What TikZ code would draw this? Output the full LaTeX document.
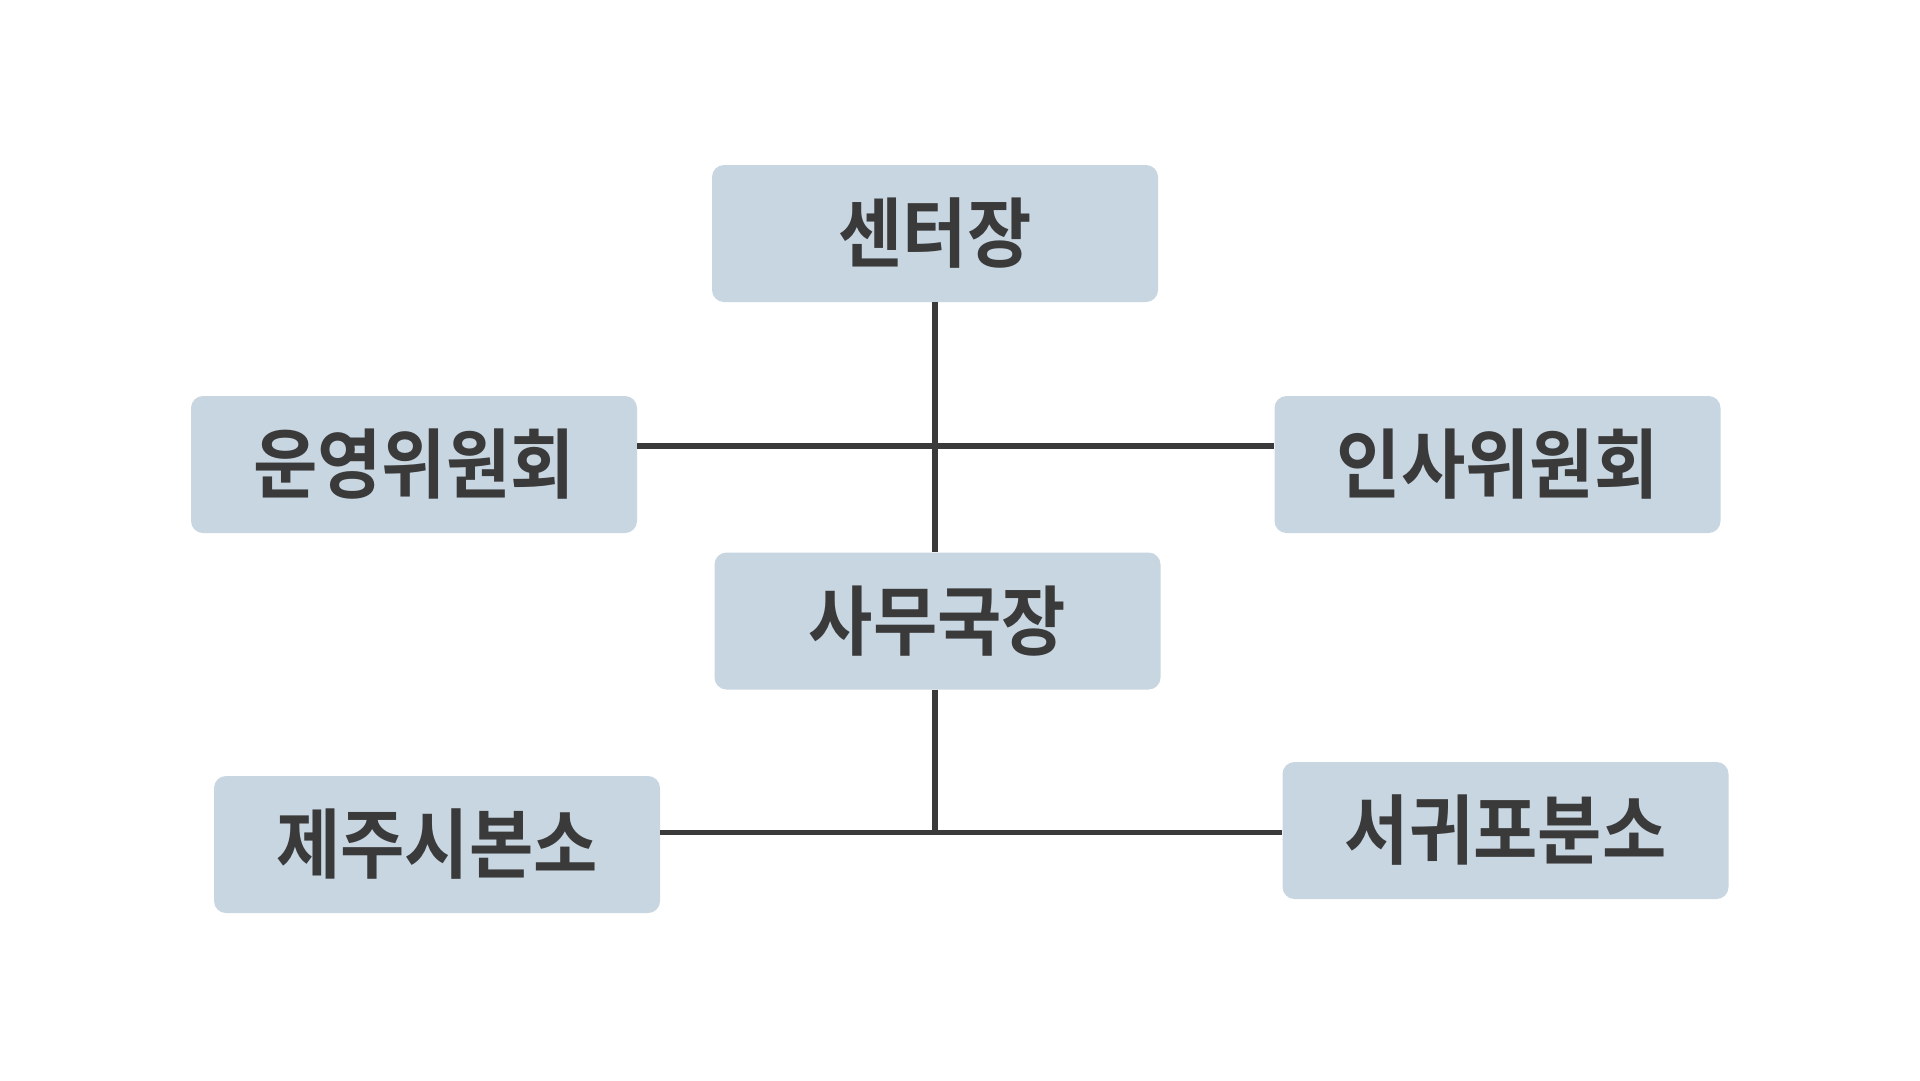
\documentclass[tikz,border=0pt]{standalone}
\usepackage{fontspec}
\newfontfamily\krfont{Noto Sans CJK KR Bold}[FakeStretch=0.92]
\definecolor{boxfill}{HTML}{C8D6E1}
\definecolor{ink}{HTML}{3A3A3A}
\begin{document}
\begin{tikzpicture}[x=1pt,y=-1pt,
  orgbox/.style={rectangle, rounded corners=12pt, fill=boxfill, draw=none,
    minimum width=446pt, minimum height=137pt, inner sep=0pt,
    text=ink, font=\krfont\fontsize{76}{80}\selectfont},
  conn/.style={draw=ink, line width=5.5pt}]
\useasboundingbox[fill=white] (0,0) rectangle (1920,1080);
\node[orgbox] (c)  at (935,233.5)  {센터장};
\node[orgbox] (l1) at (414,464.5)  {운영위원회};
\node[orgbox] (r1) at (1497.5,464.5) {인사위원회};
\node[orgbox] (m)  at (937.5,621)  {사무국장};
\node[orgbox] (l2) at (437,844.5)  {제주시본소};
\node[orgbox] (r2) at (1505.5,830.5) {서귀포분소};
\coordinate (j1) at (935,446);
\coordinate (j2) at (935,832.5);
\draw[conn] (c.south) -- (c.south |- m.north);
\draw[conn] (l1.east |- j1) -- (r1.west |- j1);
\draw[conn] (j1 |- m.south) -- (j2);
\draw[conn] (l2.east |- j2) -- (r2.west |- j2);
\end{tikzpicture}
\end{document}
